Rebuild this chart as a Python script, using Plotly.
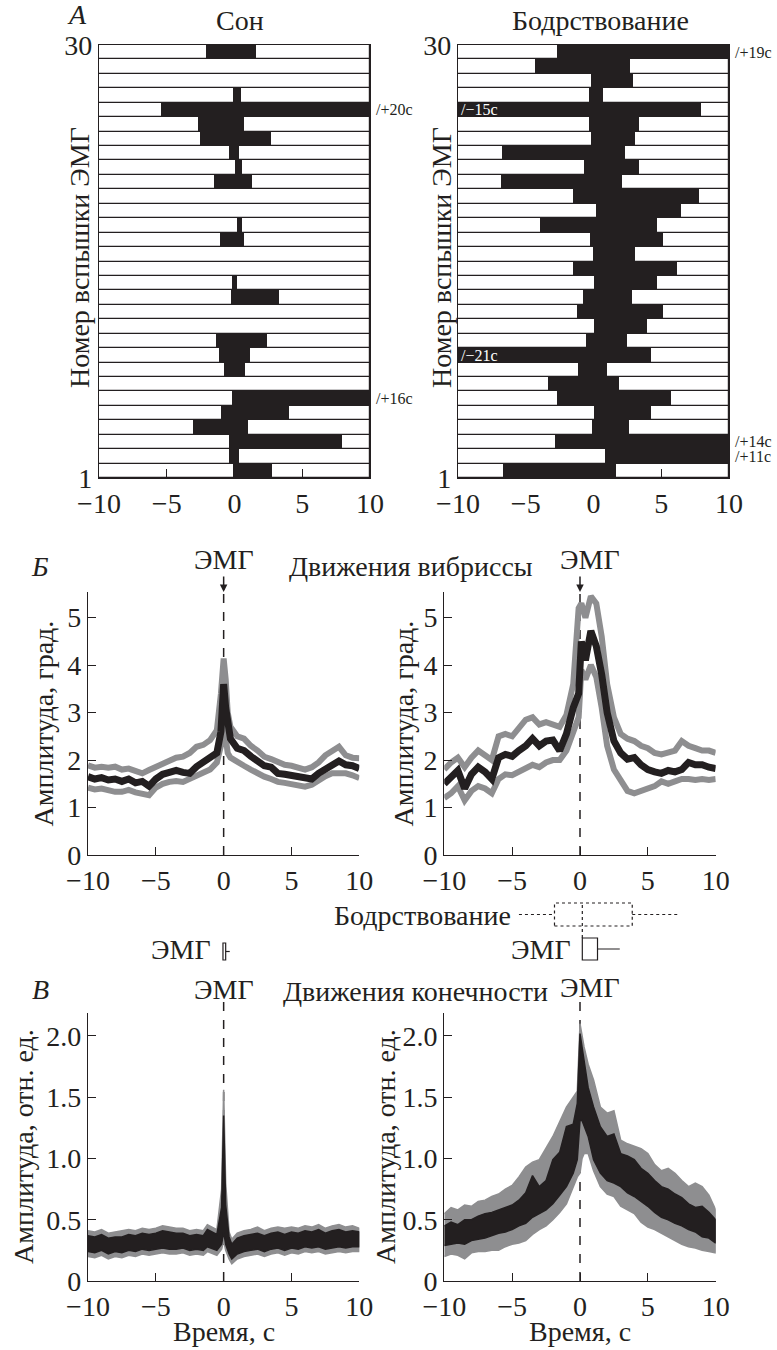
import plotly.graph_objects as go

W, H = 777, 1350
FONT = "Liberation Serif"
BLACK = "#231f20"
GRAY = "#8e8e90"
FS = 28

# ---------------- Panel A: EMG bursts raster ----------------
ROWS = list(range(1, 31))
SLEEP_START = [-0.12, -0.42, -0.4, -3.06, -1.03, -0.2, None, -0.77, -1.16, -1.38,
               None, None, -0.25, -0.2, None, None, -1.08, 0.15, None, None,
               -1.48, 0.0, -0.4, -2.54, -2.73, -5.4, -0.1, None, None, -2.07]
SLEEP_END = [2.75, 0.34, 7.97, 0.98, 3.99, 16, None, 0.74, 1.15, 2.41,
             None, None, 3.29, 0.15, None, None, 0.69, 0.52, None, None,
             1.28, 0.52, 0.34, 2.66, 0.69, 20, 0.45, None, None, 1.57]
WAKE_START = [-6.68, 0.86, -2.86, -0.1, 0.0, -2.71, -3.33, -1.14, -21, -0.59,
              0.05, -1.21, -0.77, 0.07, -1.5, -0.07, -0.25, -3.92, 0.22, -1.55,
              -6.83, -0.67, -6.78, -0.22, -0.32, -15, -0.32, -0.2, -4.31, -2.73]
WAKE_END = [1.65, 11, 14, 2.63, 4.21, 5.74, 1.9, 1.0, 4.28, 2.44,
            3.92, 5.14, 2.83, 4.7, 6.13, 3.08, 5.14, 4.7, 6.48, 7.8,
            2.07, 3.33, 2.34, 3.08, 3.37, 7.91, 0.71, 2.88, 2.68, 19]
ROW_TICK_TEXT = ["1", "30"]
SLEEP_NOTE_ROWS = [26, 6]
SLEEP_NOTE_TEXT = ["/+20с", "/+16с"]
WAKE_RNOTE_ROWS = [30, 3, 2]
WAKE_RNOTE_TEXT = ["/+19с", "/+14с", "/+11с"]
WAKE_LNOTE_ROWS = [26, 9]
WAKE_LNOTE_TEXT = ["/−15с", "/−21с"]

TIME_RANGE = [-10, 10]
TIME_TICKS = [-10, -5, 0, 5, 10]

# ---------------- Panel Б: vibrissa movements ----------------
VS_T = [-10, -9.5, -9, -8.5, -8, -7.5, -7, -6.5, -6, -5.5, -5, -4.5, -4, -3.5, -3, -2.5, -2, -1.5, -1, -0.5,
        -0.2, 0, 0.15, 0.3, 0.5, 1, 1.5, 2, 2.5, 3, 3.5, 4, 4.5, 5, 5.5, 6, 6.5, 7, 7.5, 8, 8.5, 9, 9.5, 10]
VS_MEAN = [1.65, 1.6, 1.63, 1.58, 1.6, 1.55, 1.6, 1.52, 1.55, 1.45, 1.6, 1.7, 1.74, 1.78, 1.74, 1.72, 1.86, 1.95, 2.05, 2.15,
           2.6, 3.6, 3.1, 2.7, 2.45, 2.25, 2.2, 2.08, 2.0, 1.88, 1.85, 1.72, 1.7, 1.68, 1.66, 1.62, 1.6, 1.72, 1.8, 1.92, 1.98, 1.9, 1.88, 1.82]
VS_UP = [1.89, 1.84, 1.86, 1.84, 1.86, 1.8, 1.82, 1.78, 1.72, 1.79, 1.86, 1.92, 2.0, 2.05, 2.07, 2.15, 2.28, 2.32, 2.42, 2.63,
         3.4, 4.14, 3.7, 3.0, 2.7, 2.5, 2.45, 2.3, 2.2, 2.07, 2.02, 1.95, 1.9, 1.88, 1.85, 1.8, 1.85, 1.95, 2.1, 2.2, 2.28, 2.1, 2.05, 2.04]
VS_LO = [1.42, 1.38, 1.4, 1.35, 1.33, 1.33, 1.37, 1.32, 1.3, 1.26, 1.42, 1.5, 1.54, 1.56, 1.54, 1.6, 1.65, 1.72, 1.8, 1.95,
         2.3, 2.8, 2.4, 2.15, 2.05, 1.95, 1.88, 1.8, 1.72, 1.65, 1.6, 1.54, 1.52, 1.5, 1.47, 1.44, 1.48, 1.58, 1.66, 1.72, 1.72, 1.72, 1.68, 1.62]

VW_T = [-10, -9.5, -9, -8.5, -8, -7.5, -7, -6.5, -6, -5.5, -5, -4.5, -4, -3.5, -3, -2.5, -2, -1.5, -1, -0.5,
        -0.1, 0.1, 0.4, 0.8, 1.2, 1.6, 2, 2.5, 3, 3.5, 4, 4.5, 5, 5.5, 6, 6.5, 7, 7.5, 8, 8.5, 9, 9.5, 10]
VW_MEAN = [1.5, 1.62, 1.78, 1.4, 1.7, 1.85, 1.75, 1.6, 2.05, 2.12, 2.08, 2.2, 2.3, 2.45, 2.3, 2.4, 2.42, 2.2, 2.55, 3.1,
           3.4, 4.5, 4.1, 4.72, 4.4, 3.8, 3.0, 2.4, 2.15, 2.02, 2.05, 1.9, 1.8, 1.75, 1.72, 1.78, 1.75, 1.8, 1.95, 1.9, 1.9, 1.85, 1.82]
VW_UP = [1.8, 1.95, 2.05, 1.85, 2.05, 2.2, 2.1, 2.0, 2.5, 2.55, 2.5, 2.7, 2.85, 2.9, 2.75, 2.8, 2.75, 2.7, 2.95, 3.6,
         5.2, 5.3, 5.0, 5.45, 5.3, 4.6, 3.6, 2.9, 2.55, 2.45, 2.4, 2.3, 2.25, 2.15, 2.12, 2.15, 2.2, 2.4, 2.3, 2.25, 2.2, 2.2, 2.15]
VW_LO = [1.2, 1.3, 1.45, 1.15, 1.35, 1.45, 1.4, 1.3, 1.6, 1.7, 1.68, 1.75, 1.8, 1.9, 1.85, 1.95, 2.0, 2.0, 2.2, 2.6,
         2.9, 3.9, 3.7, 4.0, 3.75, 3.1, 2.3, 1.8, 1.55, 1.35, 1.3, 1.35, 1.4, 1.45, 1.55, 1.5, 1.55, 1.6, 1.6, 1.58, 1.6, 1.58, 1.6]
V_YTICKS = [0, 1, 2, 3, 4, 5]

# ---------------- Panel В: limb movements ----------------
LS_T = [-10, -9.5, -9, -8.5, -8, -7.5, -7, -6.5, -6, -5.5, -5, -4.5, -4, -3.5, -3, -2.5, -2, -1.5, -1.2, -0.5,
        -0.15, 0, 0.15, 0.4, 0.6, 1, 1.5, 2, 2.5, 3, 3.5, 4, 4.5, 5, 5.5, 6, 6.5, 7, 7.5, 8, 8.5, 9, 9.5, 10]
LS_BHI = [0.37, 0.36, 0.38, 0.35, 0.36, 0.36, 0.38, 0.37, 0.39, 0.38, 0.39, 0.41, 0.4, 0.39, 0.39, 0.37, 0.38, 0.37, 0.42, 0.38,
          0.6, 1.35, 0.62, 0.36, 0.3, 0.35, 0.37, 0.38, 0.39, 0.37, 0.39, 0.4, 0.38, 0.4, 0.39, 0.41, 0.4, 0.42, 0.39, 0.41, 0.42, 0.4, 0.41, 0.4]
LS_BLO = [0.24, 0.23, 0.25, 0.22, 0.24, 0.23, 0.25, 0.24, 0.26, 0.25, 0.26, 0.27, 0.26, 0.26, 0.27, 0.25, 0.26, 0.25, 0.28, 0.25,
          0.3, 0.4, 0.3, 0.22, 0.18, 0.22, 0.24, 0.25, 0.26, 0.24, 0.26, 0.27, 0.25, 0.27, 0.26, 0.28, 0.27, 0.28, 0.26, 0.27, 0.28, 0.27, 0.28, 0.28]
LS_GHI = [0.41, 0.4, 0.42, 0.39, 0.4, 0.41, 0.42, 0.41, 0.43, 0.42, 0.43, 0.45, 0.44, 0.43, 0.43, 0.41, 0.42, 0.41, 0.46, 0.42,
          0.75, 1.56, 0.8, 0.4, 0.34, 0.39, 0.41, 0.42, 0.44, 0.41, 0.43, 0.44, 0.43, 0.44, 0.43, 0.45, 0.44, 0.46, 0.43, 0.45, 0.46, 0.44, 0.45, 0.43]
LS_GLO = [0.2, 0.19, 0.21, 0.18, 0.2, 0.19, 0.21, 0.2, 0.22, 0.21, 0.22, 0.23, 0.22, 0.22, 0.23, 0.21, 0.22, 0.21, 0.24, 0.21,
          0.26, 0.33, 0.25, 0.18, 0.14, 0.18, 0.2, 0.21, 0.22, 0.2, 0.22, 0.23, 0.21, 0.23, 0.22, 0.24, 0.23, 0.24, 0.22, 0.23, 0.24, 0.23, 0.24, 0.24]

LW_T = [-10, -9.5, -9, -8.5, -8, -7.5, -7, -6.5, -6, -5.5, -5, -4.5, -4, -3.5, -3, -2.5, -2, -1.5, -1, -0.5,
        -0.2, 0, 0.15, 0.3, 0.6, 1, 1.5, 2, 2.5, 3, 3.5, 4, 4.5, 5, 5.5, 6, 6.5, 7, 7.5, 8, 8.5, 9, 9.5, 10]
LW_BHI = [0.45, 0.48, 0.46, 0.5, 0.5, 0.53, 0.55, 0.56, 0.58, 0.6, 0.62, 0.66, 0.72, 0.86, 0.77, 0.82, 0.99, 1.05, 1.26, 1.28,
          1.45, 2.02, 1.9, 1.8, 1.58, 1.42, 1.26, 1.18, 1.2, 1.04, 1.02, 0.99, 0.92, 0.88, 0.82, 0.77, 0.75, 0.71, 0.68, 0.63, 0.6, 0.61, 0.56, 0.5]
LW_BLO = [0.29, 0.3, 0.31, 0.3, 0.33, 0.34, 0.35, 0.37, 0.39, 0.4, 0.42, 0.45, 0.47, 0.52, 0.55, 0.58, 0.63, 0.7, 0.77, 0.88,
          0.99, 1.31, 1.31, 1.26, 1.18, 0.99, 0.88, 0.82, 0.8, 0.77, 0.72, 0.69, 0.65, 0.61, 0.56, 0.52, 0.5, 0.47, 0.45, 0.42, 0.4, 0.36, 0.35, 0.31]
LW_GHI = [0.55, 0.6, 0.58, 0.62, 0.61, 0.65, 0.66, 0.69, 0.71, 0.75, 0.78, 0.85, 0.93, 0.97, 0.99, 1.08, 1.18, 1.3, 1.42, 1.5,
          1.55, 2.1, 2.0, 1.91, 1.77, 1.64, 1.42, 1.37, 1.39, 1.15, 1.12, 1.1, 1.08, 1.04, 0.95, 0.9, 0.92, 0.88, 0.82, 0.77, 0.8, 0.77, 0.7, 0.58]
LW_GLO = [0.2, 0.22, 0.21, 0.18, 0.23, 0.24, 0.24, 0.25, 0.25, 0.28, 0.3, 0.31, 0.33, 0.38, 0.42, 0.45, 0.5, 0.56, 0.63, 0.77,
          0.85, 0.88, 1.0, 1.04, 1.04, 0.9, 0.77, 0.71, 0.69, 0.61, 0.58, 0.55, 0.48, 0.44, 0.42, 0.39, 0.36, 0.33, 0.3, 0.28, 0.27, 0.25, 0.24, 0.23]
L_YTICKS = [0, 0.5, 1.0, 1.5, 2.0]
L_YTICKTEXT = ["0", "0.5", "1.0", "1.5", "2.0"]

# ---------------- Box plots (latency distributions) ----------------
WAKE_BOX = dict(lo=-4.5, q1=-1.88, med=0.17, q3=3.85, hi=7.2)
EMG_WAKE_BOX = dict(q1=0.17, q3=1.29, hi=2.93)
EMG_SLEEP_BOX = dict(q1=-0.05, q3=0.15, hi=0.45)


def fx(p):
    return p / W


def fy(p):
    return 1 - p / H


fig = go.Figure()

# raster panels
for xa, ya, starts, ends in [("x", "y", SLEEP_START, SLEEP_END), ("x2", "y2", WAKE_START, WAKE_END)]:
    fig.add_trace(go.Bar(
        y=ROWS, x=[TIME_RANGE[1] - TIME_RANGE[0]] * len(ROWS), base=[TIME_RANGE[0]] * len(ROWS),
        orientation="h", width=1, marker=dict(color="white", line=dict(color=BLACK, width=1.2)),
        xaxis=xa, yaxis=ya, showlegend=False, hoverinfo="skip"))
    rr = [r for r, s in zip(ROWS, starts) if s is not None]
    ss = [s for s in starts if s is not None]
    ee = [e for e in ends if e is not None]
    fig.add_trace(go.Bar(
        y=rr, x=[e - s for s, e in zip(ss, ee)], base=ss,
        orientation="h", width=1, marker=dict(color=BLACK, line=dict(width=0)),
        xaxis=xa, yaxis=ya, showlegend=False, hoverinfo="skip"))

# vibrissa panels
for xa, ya, t, up, lo, mean in [("x3", "y3", VS_T, VS_UP, VS_LO, VS_MEAN), ("x4", "y4", VW_T, VW_UP, VW_LO, VW_MEAN)]:
    for series, col, w in [(up, GRAY, 6), (lo, GRAY, 6), (mean, BLACK, 7)]:
        fig.add_trace(go.Scatter(x=t, y=series, mode="lines", line=dict(color=col, width=w),
                                 xaxis=xa, yaxis=ya, showlegend=False, hoverinfo="skip"))

# limb panels
for xa, ya, t, ghi, glo, bhi, blo in [("x5", "y5", LS_T, LS_GHI, LS_GLO, LS_BHI, LS_BLO),
                                      ("x6", "y6", LW_T, LW_GHI, LW_GLO, LW_BHI, LW_BLO)]:
    for hi, lo, col in [(ghi, glo, GRAY), (bhi, blo, BLACK)]:
        fig.add_trace(go.Scatter(x=t + t[::-1], y=hi + lo[::-1], mode="lines", fill="toself",
                                 fillcolor=col, line=dict(color=col, width=1.5),
                                 xaxis=xa, yaxis=ya, showlegend=False, hoverinfo="skip"))

tickfont = dict(family=FONT, size=FS, color=BLACK)
common = dict(showgrid=False, zeroline=False, showline=True, linecolor=BLACK, linewidth=1.3,
              ticks="inside", tickcolor=BLACK, tickwidth=1.3, tickfont=tickfont, automargin=False)

# panel geometry (pixels)
A_Y = (45, 478)
B_Y = (592, 855)
C_Y = (1012.7, 1281)
L_X = (88, 359.3)
R_X = (444.3, 715.7)

layout = dict(
    width=W, height=H, margin=dict(l=0, r=0, t=0, b=0, pad=0), autosize=False,
    paper_bgcolor="white", plot_bgcolor="rgba(0,0,0,0)",
    barmode="overlay", bargap=0, showlegend=False,
    font=dict(family=FONT, size=FS, color=BLACK),
)
row_ticks = [ROWS[0] - 0.5, ROWS[-1] + 0.5]
layout["xaxis"] = dict(common, domain=[fx(99), fx(370)], range=TIME_RANGE, tickvals=TIME_TICKS, ticklen=9, mirror=True, anchor="y")
layout["yaxis"] = dict(common, domain=[fy(A_Y[1]), fy(A_Y[0])], range=row_ticks, tickvals=row_ticks, ticktext=ROW_TICK_TEXT, ticklen=6, mirror=True, anchor="x")
layout["xaxis2"] = dict(common, domain=[fx(458), fx(729)], range=TIME_RANGE, tickvals=TIME_TICKS, ticklen=9, mirror=True, anchor="y2")
layout["yaxis2"] = dict(common, domain=[fy(A_Y[1]), fy(A_Y[0])], range=row_ticks, tickvals=row_ticks, ticktext=ROW_TICK_TEXT, ticklen=6, mirror=True, anchor="x2")
for i, xd in [(3, L_X), (4, R_X)]:
    layout[f"xaxis{i}"] = dict(common, domain=[fx(xd[0]), fx(xd[1])], range=TIME_RANGE, tickvals=TIME_TICKS, ticklen=8, anchor=f"y{i}")
    layout[f"yaxis{i}"] = dict(common, domain=[fy(B_Y[1]), fy(B_Y[0])], range=[0, 5.54], tickvals=V_YTICKS, ticklen=8, anchor=f"x{i}")
for i, xd in [(5, L_X), (6, R_X)]:
    layout[f"xaxis{i}"] = dict(common, domain=[fx(xd[0]), fx(xd[1])], range=TIME_RANGE, tickvals=TIME_TICKS, ticklen=8, anchor=f"y{i}")
    layout[f"yaxis{i}"] = dict(common, domain=[fy(C_Y[1]), fy(C_Y[0])], range=[0, 2.19], tickvals=L_YTICKS, ticktext=L_YTICKTEXT, ticklen=8, anchor=f"x{i}")
fig.update_layout(**layout)

shapes = []
# EMG onset dashed lines
for xr in ["x3", "x4"]:
    shapes.append(dict(type="line", xref=xr, yref="paper", x0=0, x1=0, y0=fy(B_Y[1]), y1=fy(B_Y[0]),
                       line=dict(color=BLACK, width=1.5, dash="dash"), layer="below"))
for xr in ["x5", "x6"]:
    shapes.append(dict(type="line", xref=xr, yref="paper", x0=0, x1=0, y0=fy(C_Y[1]), y1=fy(1002),
                       line=dict(color=BLACK, width=1.5, dash="dash"), layer="below"))


def box(xr, b, y_top, y_bot, dash, whisk_lo=True):
    ym = (y_top + y_bot) / 2
    out = [dict(type="rect", xref=xr, yref="paper", x0=b["q1"], x1=b["q3"], y0=fy(y_bot), y1=fy(y_top),
                line=dict(color=BLACK, width=1.2, dash=dash), fillcolor="rgba(0,0,0,0)")]
    out.append(dict(type="line", xref=xr, yref="paper", x0=b["q3"], x1=b["hi"], y0=fy(ym), y1=fy(ym),
                    line=dict(color=BLACK, width=1.2, dash=dash)))
    if whisk_lo:
        out.append(dict(type="line", xref=xr, yref="paper", x0=b["lo"], x1=b["q1"], y0=fy(ym), y1=fy(ym),
                        line=dict(color=BLACK, width=1.2, dash=dash)))
    return out


shapes += box("x4", WAKE_BOX, 903, 926, "dot")
shapes.append(dict(type="line", xref="x4", yref="paper", x0=WAKE_BOX["med"], x1=WAKE_BOX["med"], y0=fy(938), y1=fy(903),
                   line=dict(color=BLACK, width=1.2, dash="dot")))
shapes += box("x4", EMG_WAKE_BOX, 938, 960, "solid", whisk_lo=False)
shapes += box("x3", EMG_SLEEP_BOX, 943, 960, "solid", whisk_lo=False)
fig.update_layout(shapes=shapes)

ann = []


def txt(text, x, y, xref="paper", yref="paper", size=FS, xanchor="center", yanchor="middle", color=BLACK, angle=0, xshift=0):
    ann.append(dict(text=text, x=x, y=y, xref=xref, yref=yref, showarrow=False, xanchor=xanchor, yanchor=yanchor,
                    textangle=angle, xshift=xshift, font=dict(family=FONT, size=size, color=color)))


# panel A texts
txt("<i>А</i>", fx(77), fy(15))
txt("Сон", fx(240), fy(20))
txt("Бодрствование", fx(600), fy(20))
txt("Номер вспышки ЭМГ", fx(79), fy(258), angle=-90)
txt("Номер вспышки ЭМГ", fx(441), fy(258), angle=-90)
for r, s in zip(SLEEP_NOTE_ROWS, SLEEP_NOTE_TEXT):
    txt(s, TIME_RANGE[1], r, xref="x", yref="y", size=16, xanchor="left", xshift=4)
for r, s in zip(WAKE_RNOTE_ROWS, WAKE_RNOTE_TEXT):
    txt(s, TIME_RANGE[1], r, xref="x2", yref="y2", size=16, xanchor="left", xshift=4)
for r, s in zip(WAKE_LNOTE_ROWS, WAKE_LNOTE_TEXT):
    txt(s, TIME_RANGE[0], r, xref="x2", yref="y2", size=16, xanchor="left", color="white", xshift=1)

# panel Б texts
txt("<i>Б</i>", fx(40), fy(567))
txt("ЭМГ", 0, fy(560), xref="x3")
txt("ЭМГ", 0, fy(560), xref="x4", xshift=10)
txt("Движения вибриссы", fx(411), fy(566))
txt("Амплитуда, град.", fx(43), fy(723.5), angle=-90)
txt("Амплитуда, град.", fx(403), fy(723.5), angle=-90)
for xr in ["x3", "x4"]:
    ann.append(dict(x=0, xref=xr, y=fy(B_Y[0]), yref="paper", ax=0, ay=-17, text="", showarrow=True,
                    arrowhead=2, arrowsize=1, arrowwidth=1.5, arrowcolor=BLACK))

# box plot labels
txt("Бодрствование", fx(513), fy(915), xanchor="right")
txt("ЭМГ", fx(213), fy(949), xanchor="right")
txt("ЭМГ", fx(573), fy(949), xanchor="right")

# panel В texts
txt("<i>В</i>", fx(40), fy(990))
txt("ЭМГ", 0, fy(990), xref="x5")
txt("ЭМГ", 0, fy(987), xref="x6", xshift=10)
txt("Движения конечности", fx(415), fy(991))
txt("Амплитуда, отн. ед.", fx(23), fy(1147), angle=-90)
txt("Амплитуда, отн. ед.", fx(385), fy(1147), angle=-90)
txt("Время, с", 0, fy(1331), xref="x5")
txt("Время, с", 0, fy(1331), xref="x6")

fig.update_layout(annotations=ann)
fig.write_html("out.html", config={"displayModeBar": False},
               post_script="document.body.style.margin='0';document.body.style.overflow='hidden';")
